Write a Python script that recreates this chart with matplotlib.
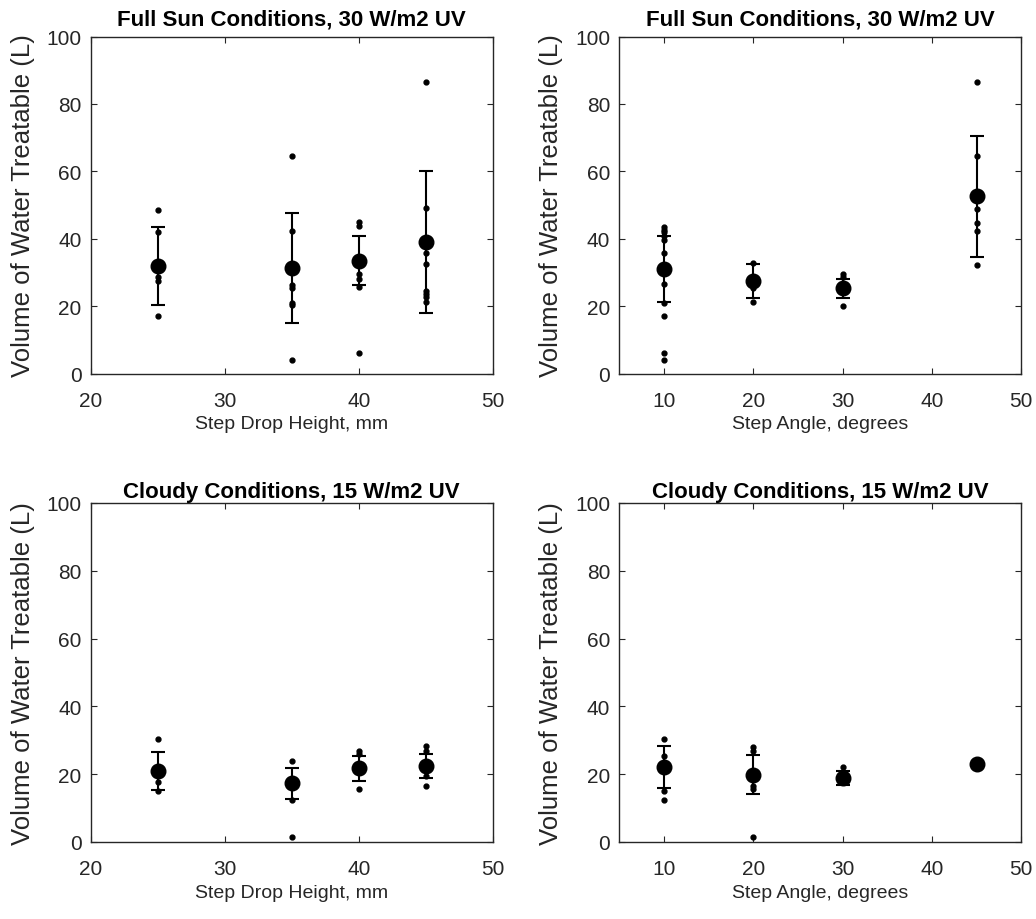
import numpy as np
import matplotlib.pyplot as plt

plt.rcParams['font.family'] = ['Liberation Sans', 'DejaVu Sans']

# step drop height trials (mm)
drop_x = [25, 35, 40, 45]
# step angle trials (degrees)
angle_x = [10, 20, 30, 45]

# full sun, 30 W/m2 UV
sun_drop_pts = [[48.5, 41.9, 28.5, 27.5, 17.0],
                [64.5, 42.4, 26.3, 25.5, 21.0, 20.3, 4.0],
                [44.9, 43.9, 29.5, 28.0, 25.6, 6.0],
                [86.6, 49.1, 35.8, 32.5, 24.6, 23.6, 22.6, 21.1]]
sun_drop_mean = [32.0, 31.3, 33.5, 39.1]
sun_drop_std = [11.6, 16.3, 7.2, 21.0]

sun_angle_pts = [[43.4, 42.7, 41.9, 40.9, 39.7, 35.7, 26.6, 20.9, 17.0, 6.1, 4.0],
                 [32.8, 28.0, 25.5, 21.3],
                 [29.5, 28.5, 20.1],
                 [86.6, 64.5, 48.8, 44.6, 42.4, 32.3]]
sun_angle_mean = [31.0, 27.4, 25.3, 52.6]
sun_angle_std = [9.7, 5.0, 2.8, 18.0]

# cloudy, 15 W/m2 UV
cloud_drop_pts = [[30.4, 17.8, 15.0],
                  [23.8, 12.4, 1.6],
                  [26.8, 26.0, 15.6],
                  [28.2, 26.9, 19.4, 16.6]]
cloud_drop_mean = [20.9, 17.3, 21.8, 22.5]
cloud_drop_std = [5.6, 4.5, 3.7, 3.5]

cloud_angle_pts = [[30.4, 25.5, 15.1, 12.4],
                   [27.9, 26.9, 16.6, 15.6, 1.6],
                   [22.0, 18.0],
                   [23.0]]
cloud_angle_mean = [22.0, 19.9, 18.8, 23.0]
cloud_angle_std = [6.2, 5.7, 2.0, 0.0]

sun_title = 'Full Sun Conditions, 30 W/m2 UV'
cloud_title = 'Cloudy Conditions, 15 W/m2 UV'
ylab = 'Volume of Water Treatable (L)'

fig = plt.figure(figsize=(10.36, 9.2), dpi=100)
w = 0.388
axes = [fig.add_axes([0.0876, 0.5929, w, 0.3663]),
        fig.add_axes([0.5978, 0.5929, w, 0.3663]),
        fig.add_axes([0.0876, 0.0837, w, 0.3685]),
        fig.add_axes([0.5978, 0.0837, w, 0.3685])]

panels = [
    (drop_x, sun_drop_pts, sun_drop_mean, sun_drop_std, sun_title, 'Step Drop Height, mm', (20, 50), [20, 30, 40, 50]),
    (angle_x, sun_angle_pts, sun_angle_mean, sun_angle_std, sun_title, 'Step Angle, degrees', (5, 50), [10, 20, 30, 40, 50]),
    (drop_x, cloud_drop_pts, cloud_drop_mean, cloud_drop_std, cloud_title, 'Step Drop Height, mm', (20, 50), [20, 30, 40, 50]),
    (angle_x, cloud_angle_pts, cloud_angle_mean, cloud_angle_std, cloud_title, 'Step Angle, degrees', (5, 50), [10, 20, 30, 40, 50]),
]
title_pads = [8.5, 8.5, 4.5, 4.5]

grey = '#262626'
for ax, (xs, pts, mean, std, title, xlab, xlim, xt), tpad in zip(axes, panels, title_pads):
    ax.errorbar(xs, mean, yerr=std, fmt='none', ecolor='k', elinewidth=1.5,
                capsize=5, capthick=1.5, zorder=2)
    for x, p in zip(xs, pts):
        ax.plot([x] * len(p), p, 'o', color='k', markersize=3.5, zorder=3)
    ax.plot(xs, mean, 'o', color='k', markersize=10.5, zorder=4)
    ax.set_xlim(*xlim)
    ax.set_ylim(0, 100)
    ax.set_xticks(xt)
    ax.set_yticks(np.arange(0, 101, 20))
    ax.tick_params(direction='in', length=4.5, width=0.8, top=True, right=True,
                   labelsize=15, colors=grey, labelcolor=grey)
    ax.tick_params(axis='x', pad=12.5)
    ax.tick_params(axis='y', pad=6.5)
    for s in ax.spines.values():
        s.set_color(grey)
        s.set_linewidth(1.0)
    ax.set_title(title, fontsize=16, fontweight='bold', pad=tpad)
    ax.set_xlabel(xlab, fontsize=14, color=grey, labelpad=4)
    ax.set_ylabel(ylab, fontsize=18.5, color=grey, labelpad=8.5)

fig.savefig('out.png', dpi=100)
